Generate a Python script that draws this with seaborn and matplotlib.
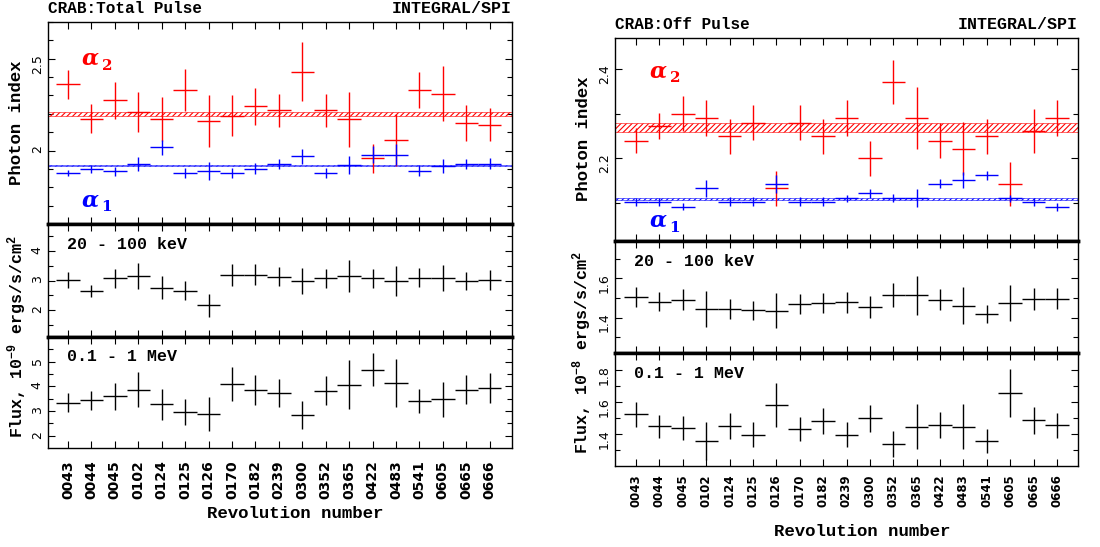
import numpy as np
import matplotlib
matplotlib.use("Agg")
import matplotlib.pyplot as plt
import seaborn as sns
from matplotlib.ticker import FuncFormatter

# ----------------------------------
# data
# ----------------------------------
revs = ["0043", "0044", "0045", "0102", "0124", "0125", "0126", "0170", "0182", "0239",
        "0300", "0352", "0365", "0422", "0483", "0541", "0605", "0665", "0666"]

# total pulse
tot_a2 = [2.36, 2.173, 2.273, 2.209, 2.173, 2.33, 2.16, 2.19, 2.24, 2.22,
          2.43, 2.22, 2.17, 1.958, 2.058, 2.33, 2.31, 2.15, 2.14]
tot_a2_err = [0.08, 0.08, 0.10, 0.11, 0.12, 0.115, 0.14, 0.11, 0.10, 0.09,
              0.16, 0.09, 0.15, 0.08, 0.14, 0.10, 0.15, 0.10, 0.09]
tot_a1 = [1.878, 1.90, 1.887, 1.927, 2.018, 1.878, 1.887, 1.878, 1.90, 1.927,
          1.969, 1.878, 1.922, 1.978, 1.978, 1.89, 1.915, 1.927, 1.927]
tot_a1_err = [0.017, 0.02, 0.025, 0.04, 0.04, 0.025, 0.05, 0.025, 0.03, 0.025,
              0.04, 0.025, 0.05, 0.045, 0.055, 0.03, 0.038, 0.027, 0.03]
tot_a2_band = (2.19, 2.21)
tot_a1_band = (1.914, 1.922)
tot_f1 = [3.02, 2.66, 3.07, 3.16, 2.76, 2.66, 2.16, 3.18, 3.20, 3.13,
          2.99, 3.08, 3.16, 3.07, 2.99, 3.10, 3.08, 2.99, 3.02]
tot_f1_err = [0.26, 0.20, 0.33, 0.43, 0.38, 0.32, 0.39, 0.38, 0.35, 0.31,
              0.43, 0.32, 0.54, 0.31, 0.50, 0.32, 0.43, 0.31, 0.33]
tot_f2 = [3.33, 3.44, 3.60, 3.87, 3.27, 2.96, 2.87, 4.10, 3.84, 3.73,
          2.84, 3.83, 4.07, 4.67, 4.13, 3.40, 3.47, 3.87, 3.93]
tot_f2_err = [0.38, 0.38, 0.55, 0.72, 0.62, 0.51, 0.70, 0.68, 0.60, 0.55,
              0.58, 0.57, 1.00, 0.67, 0.98, 0.50, 0.70, 0.59, 0.60]

# off pulse
off_a2 = [2.24, 2.272, 2.30, 2.291, 2.25, 2.28, 2.133, 2.28, 2.25, 2.291,
          2.20, 2.371, 2.291, 2.24, 2.222, 2.25, 2.143, 2.261, 2.291]
off_a2_err = [0.028, 0.029, 0.039, 0.04, 0.039, 0.039, 0.04, 0.039, 0.039, 0.04,
              0.04, 0.049, 0.069, 0.04, 0.059, 0.039, 0.049, 0.049, 0.04]
off_a1 = [2.103, 2.103, 2.092, 2.133, 2.103, 2.103, 2.143, 2.103, 2.103, 2.111,
          2.122, 2.111, 2.111, 2.143, 2.152, 2.162, 2.111, 2.103, 2.092]
off_a1_err = [0.009, 0.009, 0.008, 0.019, 0.01, 0.01, 0.02, 0.01, 0.01, 0.008,
              0.01, 0.009, 0.02, 0.01, 0.018, 0.01, 0.008, 0.009, 0.009]
off_a2_band = (2.26, 2.28)
off_a1_band = (2.106, 2.112)
off_f1 = [1.504, 1.48, 1.492, 1.443, 1.443, 1.437, 1.435, 1.47, 1.475, 1.478,
          1.454, 1.515, 1.513, 1.492, 1.461, 1.419, 1.475, 1.496, 1.497]
off_f1_err = [0.052, 0.048, 0.052, 0.09, 0.05, 0.05, 0.088, 0.05, 0.052, 0.052,
              0.056, 0.06, 0.10, 0.054, 0.095, 0.047, 0.09, 0.055, 0.055]
off_f2 = [1.522, 1.448, 1.438, 1.354, 1.448, 1.396, 1.579, 1.432, 1.48, 1.396,
          1.497, 1.337, 1.444, 1.453, 1.444, 1.358, 1.653, 1.484, 1.453]
off_f2_err = [0.077, 0.072, 0.076, 0.118, 0.082, 0.076, 0.137, 0.076, 0.081, 0.076,
              0.084, 0.08, 0.14, 0.081, 0.14, 0.074, 0.15, 0.086, 0.078]

# ----------------------------------
# style
# ----------------------------------
sns.set_theme(style="ticks")
plt.rcParams['font.family'] = ['DejaVu Sans']
plt.rcParams['mathtext.fontset'] = 'custom'
plt.rcParams['mathtext.rm'] = 'Liberation Mono:bold'
plt.rcParams['mathtext.default'] = 'regular'
plt.rcParams['hatch.linewidth'] = 0.8
for k in ['text.color', 'axes.labelcolor', 'xtick.color', 'ytick.color']:
    plt.rcParams[k] = 'black'

RED = "#ff0000"
BLUE = "#0000ff"
MONO = dict(family='Liberation Mono', weight='bold')

x = np.arange(1, len(revs) + 1)
fmt = FuncFormatter(lambda v, p: f"{v:g}")

fig = plt.figure(figsize=(11, 5.47), dpi=100)


def make_ax(rect, xlim, ylim, major, minor):
    ax = fig.add_axes(rect)
    ax.set_facecolor('white')
    ax.set_xlim(xlim)
    ax.set_ylim(ylim)
    ax.set_xticks(x)
    ax.set_yticks(major)
    ax.set_yticks(minor, minor=True)
    ax.yaxis.set_major_formatter(fmt)
    ax.tick_params(which='both', direction='in', top=True, right=True,
                   color='black', width=0.8)
    ax.tick_params(which='major', length=5)
    ax.tick_params(which='minor', length=3.5)
    ax.tick_params(axis='y', labelrotation=90, labelsize=9, pad=3)
    ax.tick_params(axis='x', labelbottom=False)
    for s in ax.spines.values():
        s.set_linewidth(1.0)
        s.set_color('black')
    ax.grid(False)
    return ax


def errbars(ax, vals, errs, color):
    ax.errorbar(x, vals, yerr=errs, xerr=0.5, fmt='none', ecolor=color,
                elinewidth=1.0, capsize=0)


def alpha_label(ax, xv, yv, digit, color):
    ax.text(xv, yv, "α", color=color, fontsize=16, fontweight='bold', fontstyle='italic',
            family='DejaVu Serif', ha='center', va='center')
    ax.annotate(digit, xy=(xv, yv), xycoords='data', xytext=(12, -5),
                textcoords='offset points', color=color, fontsize=11,
                fontweight='bold', family='DejaVu Serif', ha='center', va='center')


def column(left, width, tops, xlim, lims, ticks, d, title, xlab_y, tick_size, tick_pad):
    (t_y0, t_h), (m_y0, m_h), (b_y0, b_h) = tops
    a2, a2e, a1, a1e, band2, band1, f1, f1e, f2, f2e = d

    ax1 = make_ax([left, t_y0, width, t_h], xlim, lims[0], *ticks[0])
    ax1.axhspan(*band2, facecolor='none', edgecolor=RED, hatch='//////', linewidth=0.4)
    ax1.axhspan(*band1, facecolor='none', edgecolor=BLUE, hatch='//////', linewidth=0.4)
    errbars(ax1, a2, a2e, RED)
    errbars(ax1, a1, a1e, BLUE)
    ax1.spines['bottom'].set_linewidth(2.5)
    ax1.annotate(title, xy=(0, 1), xycoords='axes fraction', xytext=(0, 4),
                 textcoords='offset points', ha='left', va='bottom', fontsize=11.5, **MONO)
    ax1.annotate("INTEGRAL/SPI", xy=(1, 1), xycoords='axes fraction', xytext=(0, 4),
                 textcoords='offset points', ha='right', va='bottom', fontsize=12, **MONO)

    ax2 = make_ax([left, m_y0, width, m_h], xlim, lims[1], *ticks[1])
    errbars(ax2, f1, f1e, 'black')
    ax2.spines['top'].set_linewidth(2.5)
    ax2.spines['bottom'].set_linewidth(2.5)
    ax2.text(0.041, 0.82, "20 - 100 keV", transform=ax2.transAxes, ha='left',
             va='center', fontsize=12, **MONO)

    ax3 = make_ax([left, b_y0, width, b_h], xlim, lims[2], *ticks[2])
    errbars(ax3, f2, f2e, 'black')
    ax3.spines['top'].set_linewidth(2.5)
    ax3.text(0.041, 0.82, "0.1 - 1 MeV", transform=ax3.transAxes, ha='left',
             va='center', fontsize=12, **MONO)
    ax3.tick_params(axis='x', labelbottom=True, labelrotation=90, labelsize=tick_size,
                    pad=tick_pad)
    ax3.set_xticklabels(revs, fontweight='bold', family='DejaVu Sans')

    fig.text(left + width / 2 + 0.014, xlab_y, "Revolution number", ha='center',
             va='center', fontsize=12.5, **MONO)
    return ax1, ax2, ax3


# left: total pulse
L = column(48 / 1100, 464 / 1100,
           [(1 - 224 / 547, 202 / 547), (1 - 337 / 547, 113 / 547), (1 - 448 / 547, 111 / 547)],
           (0.15, 19.95),
           [(1.6, 2.7), (1.1, 4.9), (1.5, 6.0)],
           [([2.0, 2.5], np.arange(1.7, 2.7, 0.1)),
            ([2, 3, 4], [1.5, 2.5, 3.5, 4.5]),
            ([2, 3, 4, 5], [2.5, 3.5, 4.5, 5.5])],
           (tot_a2, tot_a2_err, tot_a1, tot_a1_err, tot_a2_band, tot_a1_band,
            tot_f1, tot_f1_err, tot_f2, tot_f2_err),
           "CRAB:Total Pulse", 1 - 514 / 547, 10, 9)
alpha_label(L[0], 1.95, 2.5, "2", RED)
alpha_label(L[0], 1.95, 1.73, "1", BLUE)
fig.text(17 / 1100, 1 - 123 / 547, "Photon index", rotation=90, ha='center',
         va='center', fontsize=12.5, **MONO)
fig.text(17 / 1100, 1 - 337 / 547, r"Flux, 10$^{-9}$ ergs/s/cm$^{2}$", rotation=90,
         ha='center', va='center', fontsize=12, **MONO)

# right: off pulse
R = column(615 / 1100, 463 / 1100,
           [(1 - 241 / 547, 203 / 547), (1 - 353 / 547, 112 / 547), (1 - 466 / 547, 113 / 547)],
           (0.1, 19.9),
           [(2.015, 2.47), (1.22, 1.79), (1.2, 1.905)],
           [([2.2, 2.4], [2.1, 2.3]),
            ([1.4, 1.6], [1.3, 1.5, 1.7]),
            ([1.4, 1.6, 1.8], [1.3, 1.5, 1.7])],
           (off_a2, off_a2_err, off_a1, off_a1_err, off_a2_band, off_a1_band,
            off_f1, off_f1_err, off_f2, off_f2_err),
           "CRAB:Off Pulse", 1 - 532 / 547, 8.5, 6)
alpha_label(R[0], 1.95, 2.395, "2", RED)
alpha_label(R[0], 1.95, 2.06, "1", BLUE)
fig.text(584 / 1100, 1 - 139 / 547, "Photon index", rotation=90, ha='center',
         va='center', fontsize=12.5, **MONO)
fig.text(582 / 1100, 1 - 353 / 547, r"Flux, 10$^{-8}$ ergs/s/cm$^{2}$", rotation=90,
         ha='center', va='center', fontsize=12, **MONO)

fig.savefig("out.png", dpi=100, facecolor='white')
